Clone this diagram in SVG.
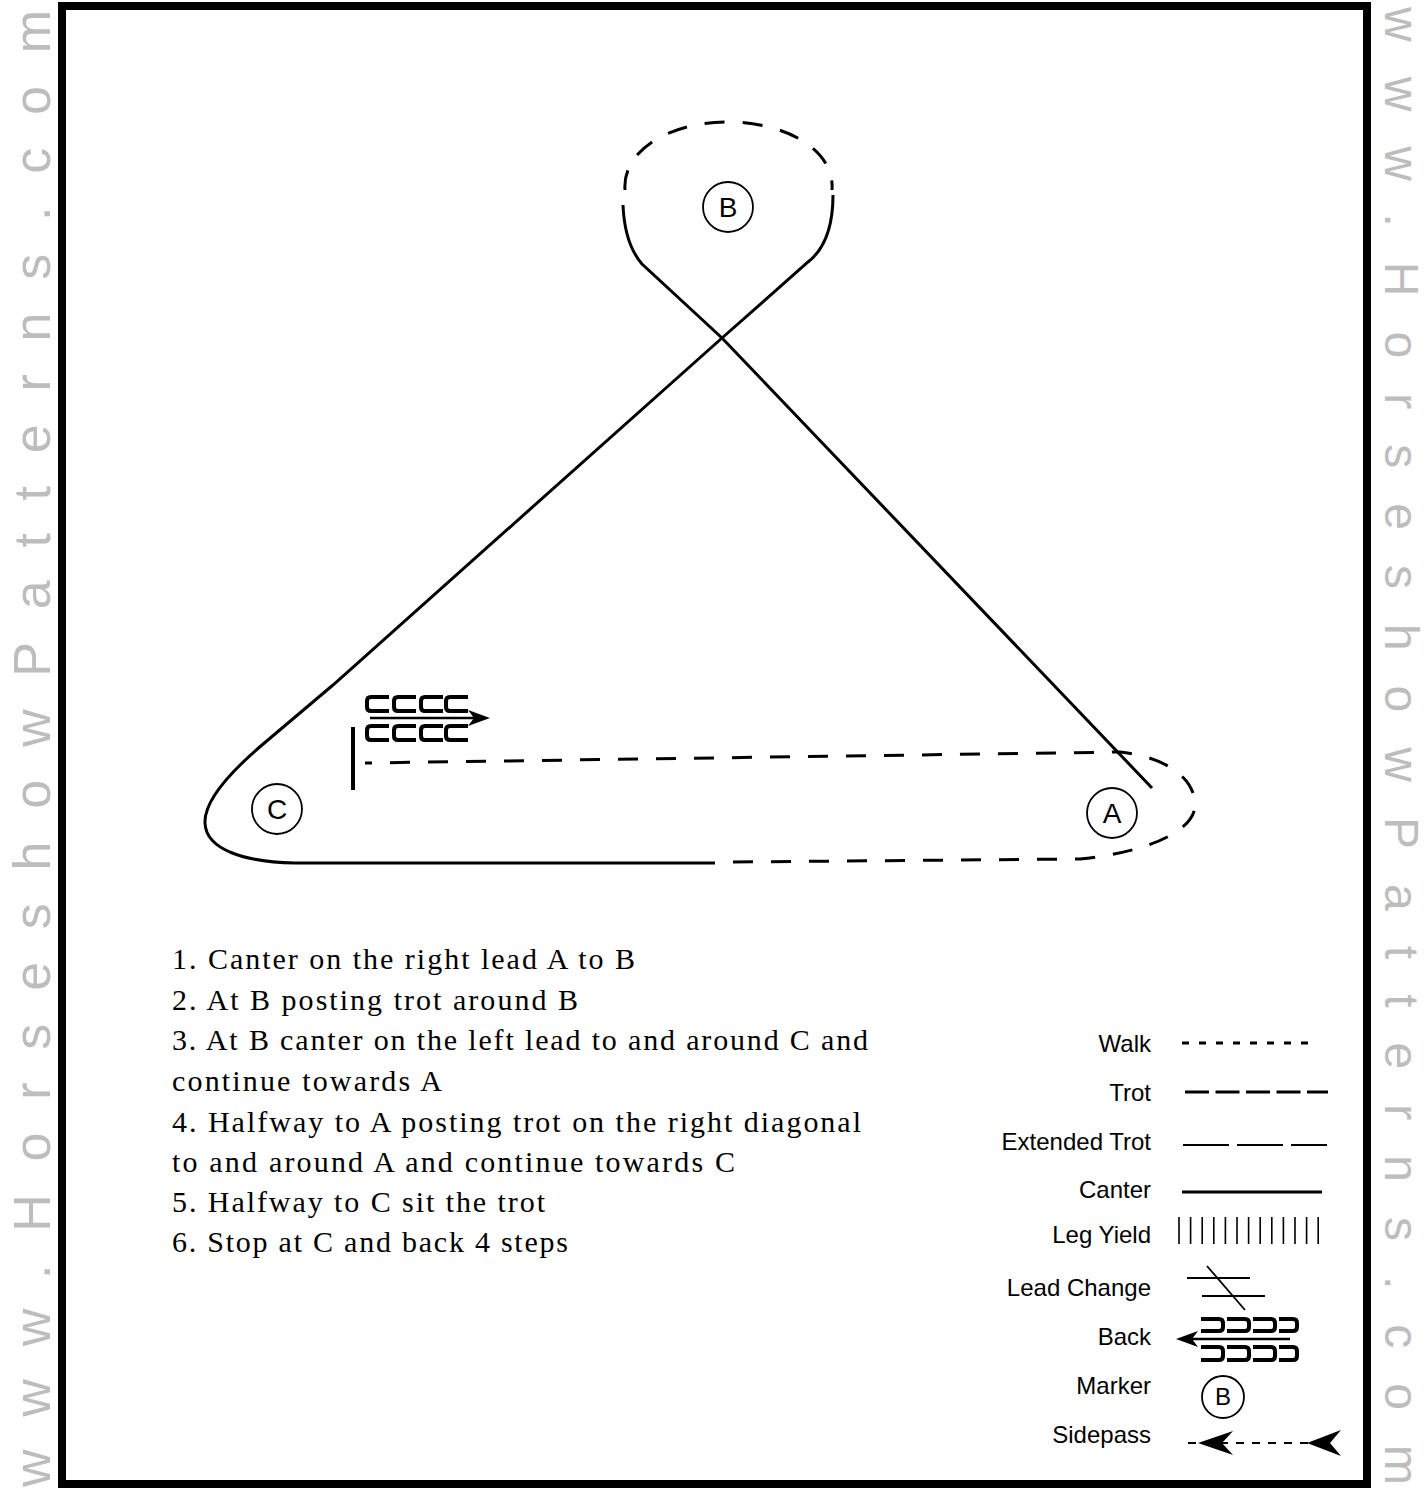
<svg xmlns="http://www.w3.org/2000/svg" width="1427" height="1488" viewBox="0 0 1427 1488">
<defs>
<style>
.ln{fill:none;stroke:#000;stroke-width:3}
.trot{stroke-dasharray:20 18}
.mk circle{fill:none;stroke:#000;stroke-width:1.8}
.mk text{font-family:"Liberation Sans",Arial,sans-serif;font-size:28px;text-anchor:middle;fill:#000}
.inst{font-family:"Liberation Serif","Times New Roman",serif;font-size:30px;fill:#000}
.lg{font-family:"Liberation Sans",Arial,sans-serif;font-size:24px;text-anchor:end;fill:#000}
.wm{font-family:"Liberation Sans",Arial,sans-serif;fill:#bdbdbd}
.cc{fill:none;stroke:#000;stroke-width:4}
</style>
</defs>
<rect x="0" y="0" width="1427" height="1488" fill="#fff"/>
<g id="watermark">
<text class="wm" font-size="52" transform="translate(50,1487) rotate(-90)" textLength="1477" lengthAdjust="spacing">www.HorseshowPatterns.com</text>
<text class="wm" font-size="48" transform="translate(1385,7) rotate(90)" textLength="1478" lengthAdjust="spacing">www.HorseshowPatterns.com</text>
</g>
<rect id="frame" x="62" y="6" width="1305" height="1478" fill="#fff" stroke="#000" stroke-width="8"/>

<g id="connectors">
<path class="ln" d="M623 205 C624 230 630 250 642 264 L722 338 L1152 788"/>
<path class="ln" d="M833 195 C833 225 826 248 808 262 L722 338 L333 685 L262 745 C228 774 204 802 205 823 C206 850 245 862 295 863 L715 863"/>
<path class="ln trot" d="M625 190 C622 150 670 122 728 122 C786 122 835 150 832 190"/>
<path class="ln trot" d="M733 862 L1080 859 C1150 852 1195 830 1195 805 C1195 775 1160 756 1120 752 L365 763"/>
<line x1="353" y1="727" x2="353" y2="790" stroke="#000" stroke-width="4"/>
<g id="back-symbol">
<path class="cc" d="M389 697 H371 Q367 697 367 701 V707 Q367 711 371 711 H389 M416 697 H398 Q394 697 394 701 V707 Q394 711 398 711 H416 M443 697 H425 Q421 697 421 701 V707 Q421 711 425 711 H443 M468 697 H450 Q446 697 446 701 V707 Q446 711 450 711 H468"/>
<path class="cc" d="M389 726 H371 Q367 726 367 730 V736 Q367 740 371 740 H389 M416 726 H398 Q394 726 394 730 V736 Q394 740 398 740 H416 M443 726 H425 Q421 726 421 730 V736 Q421 740 425 740 H443 M468 726 H450 Q446 726 446 730 V736 Q446 740 450 740 H468"/>
<line x1="370" y1="718" x2="478" y2="718" stroke="#000" stroke-width="2.5"/>
<path d="M490 718 L468 710 L474 718 L468 726 Z" fill="#000"/>
</g>
</g>

<g id="marker-B" class="mk"><circle cx="728" cy="207" r="25"/><text x="728" y="217">B</text></g>
<g id="marker-C" class="mk"><circle cx="277" cy="809" r="25"/><text x="277" y="819">C</text></g>
<g id="marker-A" class="mk"><circle cx="1112" cy="813" r="25"/><text x="1112" y="823">A</text></g>

<g id="instructions">
<text class="inst" x="172" y="969" textLength="463" lengthAdjust="spacing">1. Canter on the right lead A to B</text>
<text class="inst" x="172" y="1010" textLength="406" lengthAdjust="spacing">2. At B posting trot around B</text>
<text class="inst" x="172" y="1050" textLength="696" lengthAdjust="spacing">3. At B canter on the left lead to and around C and</text>
<text class="inst" x="172" y="1091" textLength="270" lengthAdjust="spacing">continue towards A</text>
<text class="inst" x="172" y="1132" textLength="689" lengthAdjust="spacing">4. Halfway to A posting trot on the right diagonal</text>
<text class="inst" x="172" y="1172" textLength="563" lengthAdjust="spacing">to and around A and continue towards C</text>
<text class="inst" x="172" y="1212" textLength="373" lengthAdjust="spacing">5. Halfway to C sit the trot</text>
<text class="inst" x="172" y="1252" textLength="396" lengthAdjust="spacing">6. Stop at C and back 4 steps</text>
</g>

<g id="legend">
<g id="lg-walk"><text class="lg" x="1151" y="1052">Walk</text><line x1="1182" y1="1043" x2="1315" y2="1043" stroke="#000" stroke-width="3" stroke-dasharray="7 10"/></g>
<g id="lg-trot"><text class="lg" x="1151" y="1101">Trot</text><line x1="1185" y1="1092" x2="1328" y2="1092" stroke="#000" stroke-width="3" stroke-dasharray="24 6.5"/></g>
<g id="lg-ext"><text class="lg" x="1151" y="1150">Extended Trot</text><line x1="1183" y1="1145" x2="1327" y2="1145" stroke="#000" stroke-width="2" stroke-dasharray="46 8"/></g>
<g id="lg-canter"><text class="lg" x="1151" y="1198">Canter</text><line x1="1182" y1="1192" x2="1322" y2="1192" stroke="#000" stroke-width="3"/></g>
<g id="lg-legyield"><text class="lg" x="1151" y="1243">Leg Yield</text>
<path d="M1179 1217V1244M1190.6 1217V1244M1202.2 1217V1244M1213.8 1217V1244M1225.4 1217V1244M1237 1217V1244M1248.6 1217V1244M1260.2 1217V1244M1271.8 1217V1244M1283.4 1217V1244M1295 1217V1244M1306.6 1217V1244M1318.2 1217V1244" stroke="#000" stroke-width="1.6" fill="none"/></g>
<g id="lg-lead"><text class="lg" x="1151" y="1296">Lead Change</text>
<path d="M1187 1278H1250M1202 1296H1265M1207 1266L1245 1310" stroke="#000" stroke-width="1.8" fill="none"/></g>
<g id="lg-back"><text class="lg" x="1151" y="1345">Back</text>
<path class="cc" d="M1201 1319 H1219 Q1223 1319 1223 1323 V1327 Q1223 1331 1219 1331 H1201 M1227 1319 H1245 Q1249 1319 1249 1323 V1327 Q1249 1331 1245 1331 H1227 M1253 1319 H1271 Q1275 1319 1275 1323 V1327 Q1275 1331 1271 1331 H1253 M1279 1319 H1293 Q1297 1319 1297 1323 V1327 Q1297 1331 1293 1331 H1279"/>
<path class="cc" d="M1201 1347 H1219 Q1223 1347 1223 1351 V1356 Q1223 1360 1219 1360 H1201 M1227 1347 H1245 Q1249 1347 1249 1351 V1356 Q1249 1360 1245 1360 H1227 M1253 1347 H1271 Q1275 1347 1275 1351 V1356 Q1275 1360 1271 1360 H1253 M1279 1347 H1293 Q1297 1347 1297 1351 V1356 Q1297 1360 1293 1360 H1279"/>
<line x1="1192" y1="1339" x2="1290" y2="1339" stroke="#000" stroke-width="2.5"/>
<path d="M1176 1339 L1198 1331 L1192 1339 L1198 1347 Z" fill="#000"/></g>
<g id="lg-marker" class="mk"><text class="lg" x="1151" y="1394" style="text-anchor:end;font-size:24px">Marker</text><circle cx="1223" cy="1397" r="21"/><text x="1223" y="1405" style="font-size:24px">B</text></g>
<g id="lg-side"><text class="lg" x="1151" y="1443">Sidepass</text>
<line x1="1188" y1="1443" x2="1330" y2="1443" stroke="#000" stroke-width="2" stroke-dasharray="8 8"/>
<path d="M1198 1443 L1233 1431 L1222 1443 L1233 1455 Z M1307 1443 L1341 1430 L1330 1443 L1341 1456 Z" fill="#000"/></g>
</g>
</svg>
